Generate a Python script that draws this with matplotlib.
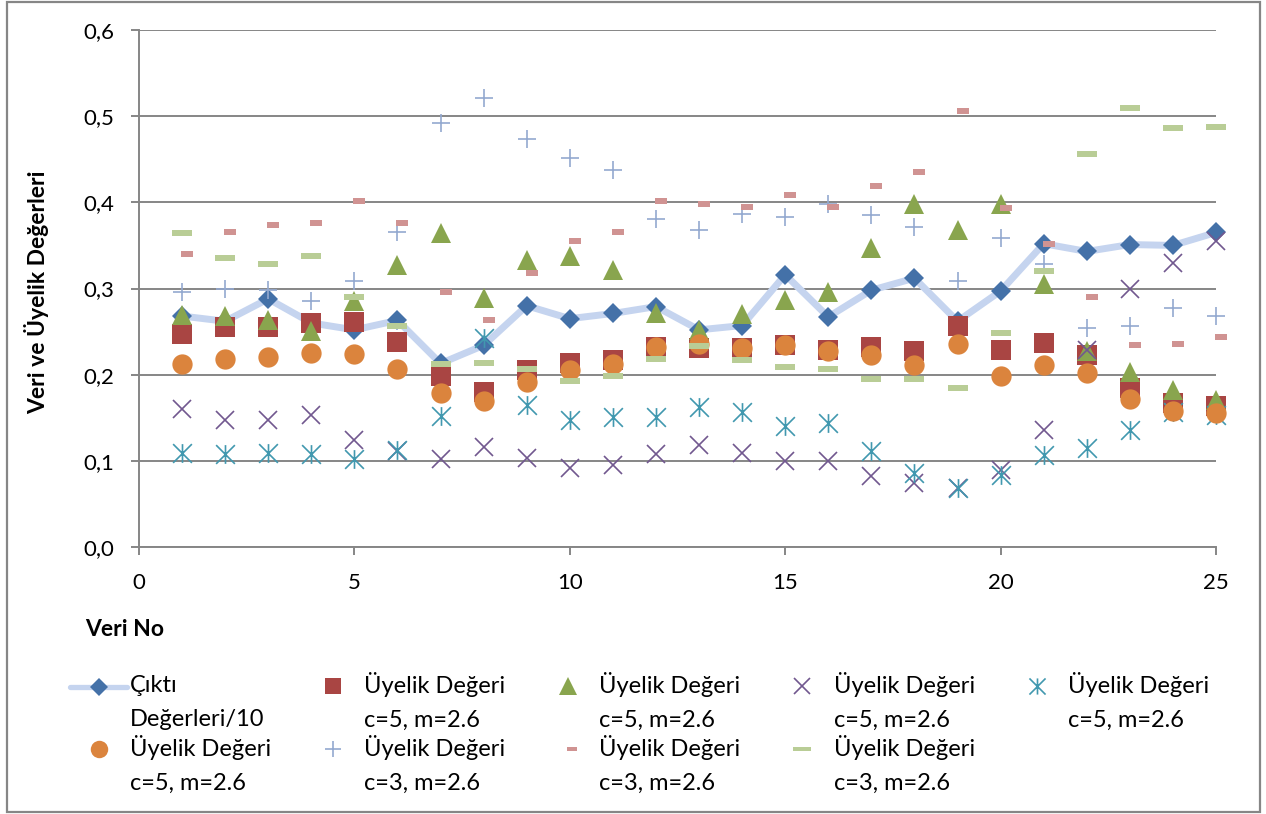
import numpy as np
import matplotlib
matplotlib.use("Agg")
import matplotlib.pyplot as plt
from matplotlib.path import Path
from matplotlib.lines import Line2D
from matplotlib.patches import Rectangle
from matplotlib.legend import Legend
from matplotlib.legend_handler import HandlerLine2D

plt.rcParams['font.family'] = ['Lato', 'DejaVu Sans']

# ---------------- data ----------------
veri_no = list(range(1, 26))
cikti_10 = [0.268, 0.262, 0.288, 0.260, 0.252, 0.263, 0.213, 0.234, 0.280, 0.265,
            0.271, 0.279, 0.252, 0.257, 0.316, 0.267, 0.298, 0.312, 0.262, 0.297,
            0.352, 0.343, 0.351, 0.350, 0.365]
c5_kare = [0.247, 0.255, 0.255, 0.260, 0.261, 0.238, 0.199, 0.180, 0.205, 0.213,
           0.217, 0.232, 0.231, 0.231, 0.234, 0.229, 0.232, 0.227, 0.256, 0.229,
           0.237, 0.223, 0.184, 0.167, 0.164]
c5_ucgen = [0.269, 0.268, 0.263, 0.251, 0.285, 0.327, 0.364, 0.289, 0.333, 0.338,
            0.321, 0.271, 0.252, 0.270, 0.287, 0.296, 0.347, 0.398, 0.368, 0.398,
            0.305, 0.228, 0.203, 0.182, 0.171]
c5_carpi = [0.160, 0.147, 0.147, 0.153, 0.124, 0.111, 0.102, 0.116, 0.103, 0.092,
            0.095, 0.108, 0.118, 0.109, 0.100, 0.100, 0.082, 0.074, 0.068, 0.089,
            0.136, 0.229, 0.299, 0.330, 0.355]
c5_yildiz = [0.109, 0.108, 0.109, 0.108, 0.102, 0.113, 0.152, 0.242, 0.165, 0.147,
             0.151, 0.151, 0.162, 0.157, 0.141, 0.144, 0.111, 0.086, 0.069, 0.084,
             0.107, 0.115, 0.136, 0.157, 0.153]
c5_daire = [0.212, 0.218, 0.221, 0.225, 0.224, 0.207, 0.179, 0.169, 0.192, 0.205,
            0.212, 0.232, 0.236, 0.231, 0.234, 0.227, 0.223, 0.211, 0.236, 0.198,
            0.211, 0.202, 0.172, 0.158, 0.156]
c3_arti = [0.296, 0.299, 0.298, 0.285, 0.309, 0.366, 0.492, 0.521, 0.474, 0.452,
           0.437, 0.381, 0.368, 0.387, 0.383, 0.398, 0.385, 0.371, 0.309, 0.359,
           0.328, 0.254, 0.256, 0.277, 0.268]
c3_kisa = [0.340, 0.366, 0.374, 0.376, 0.401, 0.376, 0.296, 0.264, 0.318, 0.355,
           0.365, 0.401, 0.398, 0.395, 0.408, 0.395, 0.419, 0.435, 0.506, 0.393,
           0.352, 0.290, 0.234, 0.236, 0.244]
c3_uzun = [0.364, 0.335, 0.328, 0.338, 0.290, 0.257, 0.212, 0.214, 0.207, 0.193,
           0.198, 0.218, 0.233, 0.217, 0.209, 0.207, 0.195, 0.195, 0.185, 0.248,
           0.320, 0.456, 0.509, 0.486, 0.487]

labels = ["Çıktı\nDeğerleri/10",
          "Üyelik Değeri\nc=5, m=2.6", "Üyelik Değeri\nc=5, m=2.6",
          "Üyelik Değeri\nc=5, m=2.6", "Üyelik Değeri\nc=5, m=2.6",
          "Üyelik Değeri\nc=5, m=2.6", "Üyelik Değeri\nc=3, m=2.6",
          "Üyelik Değeri\nc=3, m=2.6", "Üyelik Değeri\nc=3, m=2.6"]
x_ticks = [0, 5, 10, 15, 20, 25]
y_ticks = [0.0, 0.1, 0.2, 0.3, 0.4, 0.5, 0.6]

# ---------------- markers ----------------
asterisk = Path([(-1, -1), (1, 1), (-1, 1), (1, -1), (0, -1), (0, 1)],
                [Path.MOVETO, Path.LINETO, Path.MOVETO, Path.LINETO, Path.MOVETO, Path.LINETO])
short_dash = Path([(-0.1, -0.25), (1.0, -0.25), (1.0, 0.25), (-0.1, 0.25), (-0.1, -0.25)],
                  [Path.MOVETO, Path.LINETO, Path.LINETO, Path.LINETO, Path.CLOSEPOLY])
long_dash = Path([(-1, -0.26), (1, -0.26), (1, 0.26), (-1, 0.26), (-1, -0.26)],
                 [Path.MOVETO, Path.LINETO, Path.LINETO, Path.LINETO, Path.CLOSEPOLY])

GRAY = '#868686'

W, H = 1266, 814
fig = plt.figure(figsize=(W / 100, H / 100), dpi=100)
ax = fig.add_axes([139 / W, 1 - 547 / H, (1216 - 139) / W, (547 - 30) / H])

styles = [
    dict(y=cikti_10, ls='-', lw=5, color='#c5d4ef', marker='D', ms=10.2, mfc='#4471a8', mec='#4471a8', mew=0),
    dict(y=c5_kare, ls='none', marker='s', ms=14.2, mfc='#a94543', mec='#a94543', mew=0),
    dict(y=c5_ucgen, ls='none', marker='^', ms=15, mfc='#89a54e', mec='#89a54e', mew=0),
    dict(y=c5_carpi, ls='none', marker='x', ms=13.5, mfc='none', mec='#71588f', mew=1.2),
    dict(y=c5_yildiz, ls='none', marker=asterisk, ms=13.5, mfc='none', mec='#4198af', mew=1.2),
    dict(y=c5_daire, ls='none', marker='o', ms=14.6, mfc='#db843d', mec='#db843d', mew=0),
    dict(y=c3_arti, ls='none', marker='+', ms=13.5, mfc='none', mec='#93a9d0', mew=1.2),
    dict(y=c3_kisa, ls='none', marker=short_dash, ms=15.3, mfc='#d09392', mec='#d09392', mew=0),
    dict(y=c3_uzun, ls='none', marker=long_dash, ms=14.7, mfc='#b9cd96', mec='#b9cd96', mew=0),
]
proxies = []
for i, st in enumerate(styles):
    st = dict(st)
    yv = st.pop('y')
    ax.plot(veri_no, yv, solid_capstyle='round', zorder=3 + i, clip_on=False, **st)
    # legend swatch (Excel draws legend markers a little smaller)
    pst = dict(st)
    pst['ms'] = st['ms'] * 0.86
    if pst['ls'] == '-':
        pst['lw'] = 3.8
    proxies.append(Line2D([], [], solid_capstyle='round', **pst))

ax.set_xlim(0, 25)
ax.set_ylim(0, 0.6)
ax.set_xticks(x_ticks)
ax.set_xticklabels([str(t) for t in x_ticks])
ax.set_yticks(y_ticks)
ax.set_yticklabels([f"{t:.1f}".replace('.', ',') for t in y_ticks])
ax.grid(axis='y', color=GRAY, lw=1.4, zorder=0)
ax.set_axisbelow(True)
for s in ['top', 'right']:
    ax.spines[s].set_visible(False)
for s in ['left', 'bottom']:
    ax.spines[s].set_color(GRAY)
    ax.spines[s].set_linewidth(1.4)
ax.tick_params(axis='both', direction='out', length=6, width=1.4, color=GRAY,
               labelsize=16, labelcolor='black')
ax.tick_params(axis='y', pad=12)
ax.tick_params(axis='x', pad=13)

fig.text(85 / W, 1 - 630 / H, 'Veri No', ha='left', va='center', fontsize=16.5, fontweight='bold')
fig.text(37 / W, 1 - 292 / H, 'Veri ve Üyelik Değerleri', ha='center', va='center',
         rotation=90, fontsize=16.5, fontweight='bold')

# outer border
fig.patches.append(Rectangle((7 / W, 2 / H), (1260 - 7) / W, (812 - 2) / H,
                             transform=fig.transFigure, fill=False, edgecolor=GRAY, lw=1.6))

# ---------------- legend ----------------
FS = 17
PX = FS * 100 / 72
SHIFT = 0.66


class TopHandler(HandlerLine2D):
    def create_artists(self, legend, orig_handle, xdescent, ydescent, width, height, fontsize, trans):
        arts = super().create_artists(legend, orig_handle, xdescent, ydescent, width, height, fontsize, trans)
        for a in arts:
            a.set_ydata(np.asarray(a.get_ydata(), float) + SHIFT * fontsize)
        return arts


col_left = [70 + 234.5 * i for i in range(5)]
row_top = [672, 735]
order = [(0, 0), (1, 0), (2, 0), (3, 0), (4, 0), (0, 1), (1, 1), (2, 1), (3, 1)]
for k, (c, r) in enumerate(order):
    top = row_top[r] + (3 if k == 0 else 0)
    leg = Legend(ax, [proxies[k]], [labels[k]], loc='upper left',
                 bbox_to_anchor=(col_left[c] / W, 1 - top / H),
                 bbox_transform=fig.transFigure, frameon=False, borderpad=0,
                 borderaxespad=0, handlelength=57 / PX,
                 handletextpad=3 / PX, numpoints=1,
                 prop={'size': FS}, handler_map={Line2D: TopHandler()})
    for t in leg.get_texts():
        t.set_linespacing(1.78)
    ax.add_artist(leg)

fig.savefig('out.png', dpi=100)
